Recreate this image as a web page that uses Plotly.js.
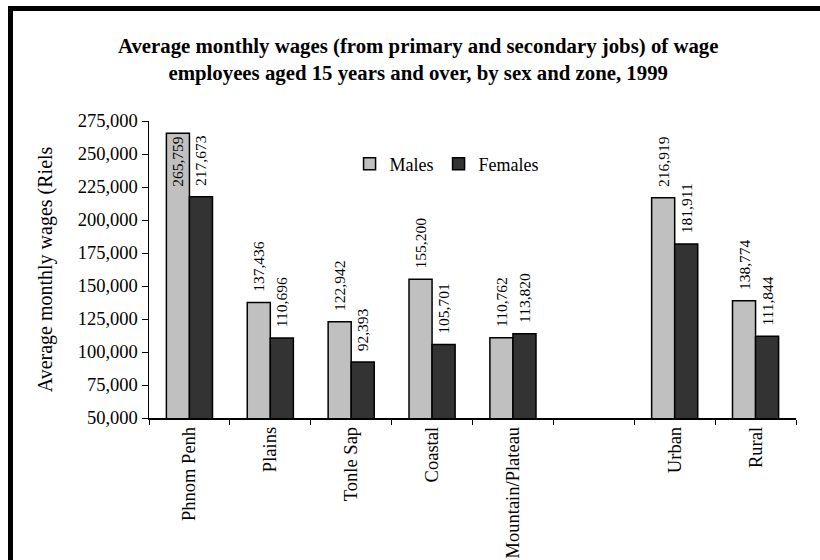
<!DOCTYPE html>
<html><head><meta charset="utf-8">
<script src="https://cdn.plot.ly/plotly-3.0.1.min.js"></script>
<style>
html,body{margin:0;padding:0;background:#fff;overflow:hidden;}
#wrap{position:relative;width:820px;height:560px;overflow:hidden;}
#chart{width:820px;height:560px;}
#frame{position:absolute;left:8px;top:6px;width:820px;height:560px;border-left:5px solid #000;border-top:5px solid #000;pointer-events:none;z-index:10;}
</style></head>
<body>
<div id="wrap"><div id="chart"></div><div id="frame"></div></div>
<script>
const categories = ["Phnom Penh","Plains","Tonle Sap","Coastal","Mountain/Plateau"," ","Urban","Rural"];
const males = [265759,137436,122942,155200,110762,null,216919,138774];
const females = [217673,110696,92393,105701,113820,null,181911,111844];
const seriesNames = ["Males","Females"];
const titleText = "Average monthly wages (from primary and secondary jobs) of wage<br>employees aged 15 years and over, by sex and zone, 1999";
const yTitle = "Average monthly wages (Riels";

const font = "Liberation Serif, Times New Roman, serif";
const malePos = males.map((v,i)=> i===0 ? "inside" : "outside");

const traces = [
  {type:"bar", name:seriesNames[0], x:categories, y:males,
   marker:{color:"#c0c0c0", line:{color:"#000", width:1.5}},
   texttemplate:"\u00a0\u00a0%{y:,}", textposition:malePos, insidetextanchor:"end", constraintext:"none",
   textangle:-90, textfont:{family:font, size:15.5, color:"#000"}, cliponaxis:false},
  {type:"bar", name:seriesNames[1], x:categories, y:females,
   marker:{color:"#333333", line:{color:"#000", width:1.5}},
   texttemplate:"\u00a0\u00a0%{y:,}", textposition:"outside", constraintext:"none",
   textangle:-90, textfont:{family:font, size:15.5, color:"#000"}, cliponaxis:false}
];

const layout = {
  width:820, height:560,
  margin:{l:149, r:24, t:121, b:142},
  paper_bgcolor:"#fff", plot_bgcolor:"#fff",
  font:{family:font, color:"#000"},
  title:{text:titleText, x:0.51, xref:"container", xanchor:"center", y:0.905, yref:"container",
         font:{family:font, size:20.8, color:"#000", weight:"bold"}},
  barmode:"group", bargap:0.43, bargroupgap:0,
  showlegend:true,
  legend:{orientation:"h", x:0.31, y:0.855, xanchor:"left", yanchor:"middle",
          font:{family:font, size:18}, bgcolor:"rgba(0,0,0,0)", itemwidth:30, traceorder:"normal"},
  xaxis:{type:"category", tickson:"boundaries", ticks:"outside", ticklen:5, tickcolor:"#000",
         showline:true, linecolor:"#000", linewidth:1.5, showgrid:false, tickangle:-90,
         tickfont:{family:font, size:18.5}, range:[-0.5,7.5], fixedrange:true},
  yaxis:{range:[50000,275000], dtick:25000, tick0:50000, tickformat:",d", ticks:"outside", ticklen:6,
         tickcolor:"#000", showline:true, linecolor:"#000", linewidth:1.5, showgrid:false, zeroline:false,
         tickfont:{family:font, size:18.5},
         title:{text:yTitle, font:{family:font, size:20}, standoff:19}}
};

Plotly.newPlot("chart", traces, layout, {staticPlot:true, displayModeBar:false});
</script>
</body></html>
